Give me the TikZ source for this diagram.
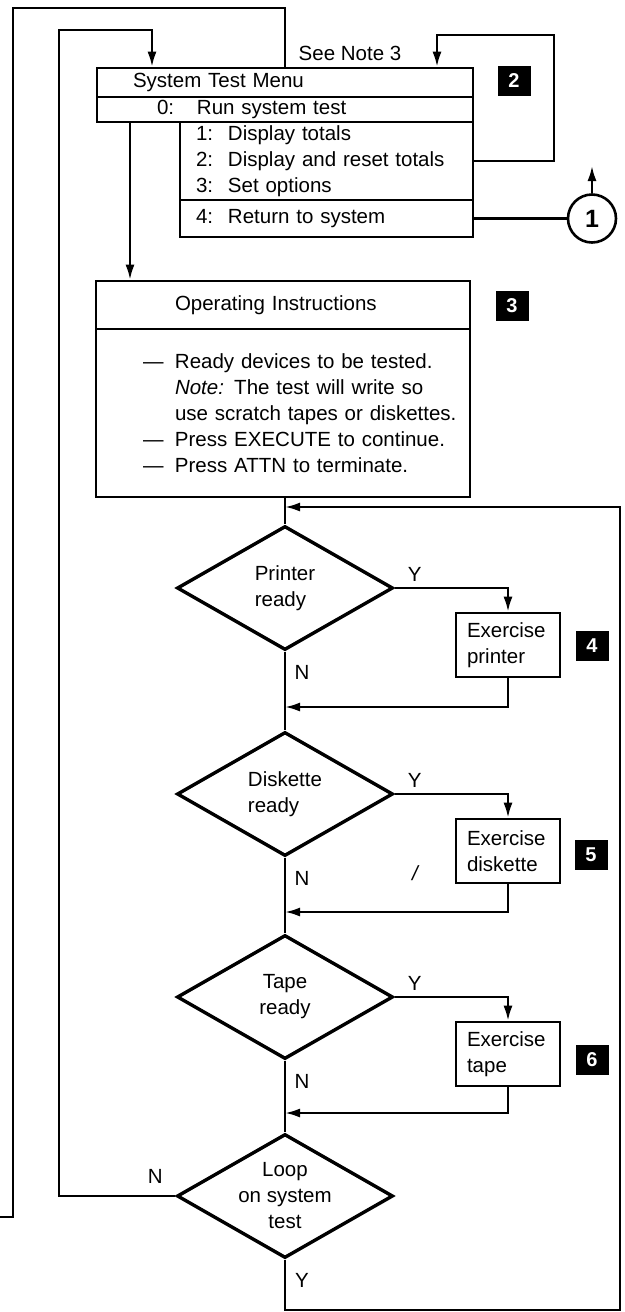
\documentclass[tikz,border=0pt]{standalone}
\usepackage{fontspec}
\setmainfont{Liberation Sans}
\usetikzlibrary{arrows.meta,shapes.geometric}
\newcommand{\mitem}[3][32pt]{\makebox[#1][l]{#2}#3}
\newcommand{\ditem}[1]{\mbox{\hspace*{28pt}\makebox[32pt][l]{—}#1}}
\newcommand{\contline}[1]{\mbox{\hspace*{60pt}#1}}
\begin{document}
\begin{tikzpicture}[x=1pt, y=-1pt,
    txt/.style={font=\fontsize{20.5}{26}\selectfont},
    row/.style={txt, draw, rectangle, line width=2.6pt, align=left, inner ysep=0pt},
    dec/.style={txt, draw, diamond, line width=3.4pt, minimum width=216, minimum height=124, inner sep=0pt, aspect=1.74},
    task/.style={txt, draw, rectangle, line width=2.6pt, align=left, minimum width=104, minimum height=64, text width=82, inner xsep=11, inner ysep=0pt},
    badge/.style={fill=black, text=white, font=\fontsize{20}{20}\selectfont\bfseries, minimum width=33, minimum height=30, inner sep=0pt},
    lbl/.style={txt, inner sep=0pt},
    line/.style={line width=2.3pt},
    arrow/.style={line, -{Latex[length=15pt,width=9pt]}}
]
\useasboundingbox (0,0) rectangle (624,1312);

% Menu
\node[row, minimum width=376, minimum height=29, text width=304, inner xsep=36] (mtitle) at (285,82.5) {System Test Menu};
\node[row, minimum width=376, minimum height=25, text width=256, inner xsep=60] (mrun) at (285,109.5) {\mitem[40pt]{0:}{Run system test}};
\node[row, minimum width=293, minimum height=78, text width=261, inner xsep=16] (mopts) at (326.5,161) {\mitem{1:}{Display totals}\\\mitem{2:}{Display and reset totals}\\\mitem{3:}{Set options}};
\node[row, minimum width=293, minimum height=37, text width=261, inner xsep=16] (mret) at (326.5,218.5) {\mitem{4:}{Return to system}};
\node[lbl] (note3) at (350,53) {See Note 3};
\node[badge] (b2) at (514,81) {2};
\node[circle, draw, line width=2.6pt, minimum size=48, inner sep=0pt, font=\fontsize{25}{25}\selectfont\bfseries] (c1) at (592,218.5) {1};
\coordinate (c1up) at (592,166);
\draw[line] (mret.east) -- (c1.west);
\draw[arrow] (c1.north) -- (c1up);
\draw[arrow] (mopts.east) -- ++(80,0) |- (437,35) -- ([shift={(152,0)}]mtitle.north);

% Loops back to the menu
\coordinate (offpage) at (0,1217);
\draw[line] (offpage) -| (13,8) -| (mtitle.north);

% Operating instructions
\node[row, minimum width=374, minimum height=48, text width=336, inner xsep=19] (ophead) at (283,305) {\contline{Operating Instructions}};
\node[row, minimum width=374, minimum height=168, text width=336, inner xsep=19] (opbody) at (283,413) {\ditem{Ready devices to be tested.}\\\contline{\textit{Note:} The test will write so}\\\contline{use scratch tapes or diskettes.}\\\ditem{Press EXECUTE to continue.}\\\ditem{Press ATTN to terminate.}};
\node[badge] (b3) at (512,306) {3};
\coordinate (runout) at ([shift={(-155,0)}]mrun.south);
\draw[arrow] (runout) -- (runout |- ophead.north);

% Printer
\node[dec, align=left] (dprn) at (285,588) {Printer\\ready};
\node[task] (eprn) at (508,645) {Exercise\\printer};
\node[badge] (b4) at (592,646) {4};
\node[lbl] (yprn) at ([shift={(20,-14)}]dprn.east) {Y};
\node[lbl] (nprn) at ([shift={(17,21)}]dprn.south) {N};
\draw[line] (opbody.south -| dprn.north) -- (dprn.north);
\draw[arrow] (dprn.east) -| (eprn.north);
\coordinate (jprn) at (285,707);
\draw[arrow] (eprn.south) |- (jprn);

% Diskette
\node[dec, align=left] (ddsk) at (285,794) {Diskette\\ready};
\node[task] (edsk) at (508,851) {Exercise\\diskette};
\node[badge] (b5) at (591,855) {5};
\node[lbl] (ydsk) at ([shift={(20,-14)}]ddsk.east) {Y};
\node[lbl] (ndsk) at ([shift={(17,21)}]ddsk.south) {N};
\node[lbl, font=\fontsize{20.5}{26}\selectfont\itshape] (mark) at (415,873) {/};
\draw[line] (dprn.south) -- (ddsk.north);
\draw[arrow] (ddsk.east) -| (edsk.north);
\coordinate (jdsk) at (285,912);
\draw[arrow] (edsk.south) |- (jdsk);

% Tape
\node[dec, align=center] (dtape) at (285,997) {Tape\\ready};
\node[task] (etape) at (508,1054) {Exercise\\tape};
\node[badge] (b6) at (592,1060) {6};
\node[lbl] (ytape) at ([shift={(20,-14)}]dtape.east) {Y};
\node[lbl] (ntape) at ([shift={(17,21)}]dtape.south) {N};
\draw[line] (ddsk.south) -- (dtape.north);
\draw[arrow] (dtape.east) -| (etape.north);
\coordinate (jtape) at (285,1113);
\draw[arrow] (etape.south) |- (jtape);

% Loop on system test
\node[dec, align=center] (dloop) at (285,1196) {Loop\\on system\\test};
\node[lbl] (nloop) at ([shift={(-20,-20)}]dloop.west) {N};
\node[lbl] (yloop) at ([shift={(17,21)}]dloop.south) {Y};
\draw[line] (dtape.south) -- (dloop.north);
\draw[arrow] (dloop.west) -| (59,30) -| ([shift={(-133,0)}]mtitle.north);
\coordinate (jtop) at (285,507);
\draw[arrow] (dloop.south) |- (620,1310) |- (jtop);

\end{tikzpicture}
\end{document}
